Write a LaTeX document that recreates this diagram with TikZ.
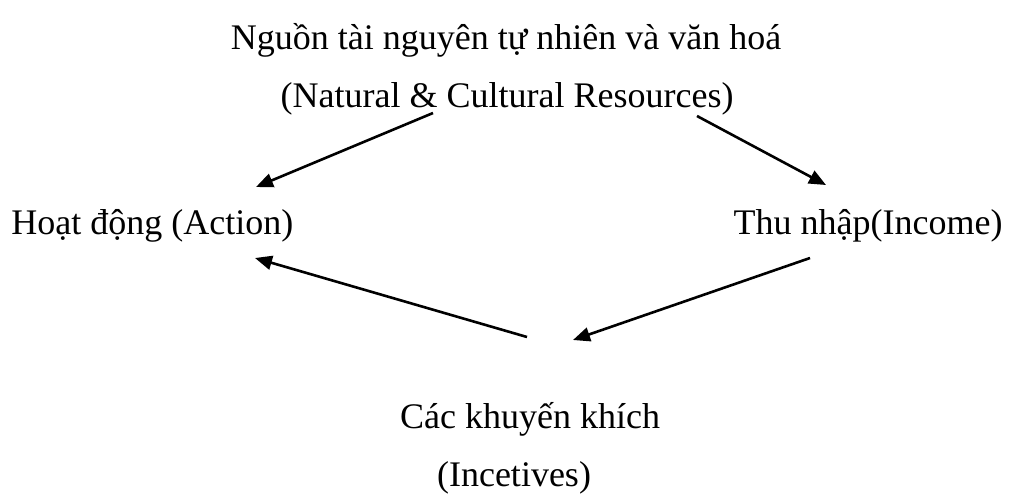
\documentclass[tikz,border=0pt]{standalone}
\usepackage{fontspec}
\setmainfont{Liberation Serif}
\usepackage{tikz}
\usetikzlibrary{arrows.meta,positioning,calc}

\begin{document}
\begin{tikzpicture}[x=0.5pt,y=-0.5pt,
  lbl/.style={inner sep=0pt,font=\fontsize{18}{22}\selectfont},
  arr/.style={line width=1.3pt,-{Triangle[length=8.5pt,width=7pt]}}]
\useasboundingbox (0,0) rectangle (1010,499);
% labels
\node[lbl,anchor=base] (src) at (506,49) {Nguồn tài nguyên tự nhiên và văn hoá};
\node[lbl,anchor=base] (srcen) at (507,107) {(Natural \& Cultural Resources)};
\node[lbl,anchor=base west] (act) at (11,234) {Hoạt động (Action)};
\node[lbl,anchor=base east] (income) at (1003,234) {Thu nhập(Income)};
\node[lbl,anchor=base] (incent) at (530,428) {Các khuyến khích};
\node[lbl,anchor=base] (incenten) at (514,486) {(Incetives)};
% arrows
\draw[arr] ($(srcen.base)+(-74,6)$) -- ($(act.base west)+(245,-47)$);
\draw[arr] ($(srcen.base)+(190,9)$) -- ($(income.base east)+(-177,-49)$);
\draw[arr] ($(incent.base)+(-3,-91)$) -- ($(act.base west)+(244,24)$);
\draw[arr] ($(income.base east)+(-193,24)$) -- ($(incent.base)+(43,-88)$);
\end{tikzpicture}
\end{document}
